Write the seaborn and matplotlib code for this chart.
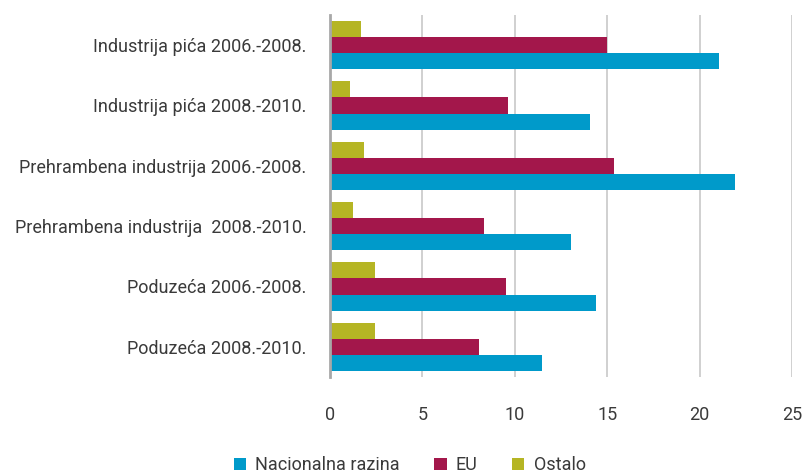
import matplotlib
matplotlib.use("Agg")
import matplotlib.pyplot as plt
from matplotlib.patches import Patch
import seaborn as sns
import pandas as pd
import numpy as np

categories = [
    "Industrija pića 2006.-2008.",
    "Industrija pića 2008.-2010.",
    "Prehrambena industrija 2006.-2008.",
    "Prehrambena industrija  2008.-2010.",
    "Poduzeća 2006.-2008.",
    "Poduzeća 2008.-2010.",
]
series = ["Nacionalna razina", "EU", "Ostalo"]
nacionalna = [21.05, 14.07, 21.9, 13.04, 14.39, 11.47]
eu = [15.0, 9.63, 15.37, 8.33, 9.52, 8.06]
ostalo = [1.68, 1.08, 1.84, 1.25, 2.43, 2.43]
x_ticks = [0, 5, 10, 15, 20, 25]

colors = {"Nacionalna razina": "#009ACA", "EU": "#A3174B", "Ostalo": "#B5B524"}

df = pd.DataFrame({
    "kategorija": categories * 3,
    "serija": ["Nacionalna razina"] * 6 + ["EU"] * 6 + ["Ostalo"] * 6,
    "vrijednost": nacionalna + eu + ostalo,
})

sns.set_style("white")
plt.rcParams["font.family"] = ["Roboto", "DejaVu Sans"]
text_color = "#3a3a3a"

fig = plt.figure(figsize=(8.03, 4.74), dpi=100)
ax = fig.add_axes([330 / 803, 1 - 377 / 474, (792 - 330) / 803, (377 - 15) / 474])

hue_order = ["Ostalo", "EU", "Nacionalna razina"]
sns.barplot(data=df, y="kategorija", x="vrijednost", hue="serija", order=categories,
            hue_order=hue_order, palette=colors, orient="h", width=0.8,
            saturation=1, ax=ax, legend=False, linewidth=0)

ax.set_xlim(0, 25)
ax.set_ylim(5.5, -0.5)
ax.set_xticks(x_ticks)
ax.set_xticklabels([str(t) for t in x_ticks])
ax.set_xlabel("")
ax.set_ylabel("")
ax.grid(axis="x", color="#c8c8c8", linewidth=1.2)
ax.grid(axis="y", visible=False)
ax.set_axisbelow(True)
for s in ["top", "right", "bottom"]:
    ax.spines[s].set_visible(False)
ax.spines["left"].set_color("#a8a8a8")
ax.spines["left"].set_linewidth(2)

ax.tick_params(axis="y", length=0, pad=17, labelsize=13, labelcolor=text_color)
ax.tick_params(axis="x", length=0, pad=21, labelsize=13, labelcolor=text_color)
ax.set_yticks(np.arange(-0.5, 6.0, 1.0), minor=True)
ax.tick_params(axis="y", which="minor", length=7, width=2, color="#a8a8a8")

handles = [Patch(facecolor=colors[s], edgecolor="none") for s in series]
fig.legend(handles, series, loc="lower center", bbox_to_anchor=(0.51, -0.035), ncol=3,
           frameon=False, fontsize=13, labelcolor=text_color, handlelength=0.7,
           handleheight=0.7, handletextpad=0.5, columnspacing=1.9)

fig.savefig("out.png", dpi=100)
